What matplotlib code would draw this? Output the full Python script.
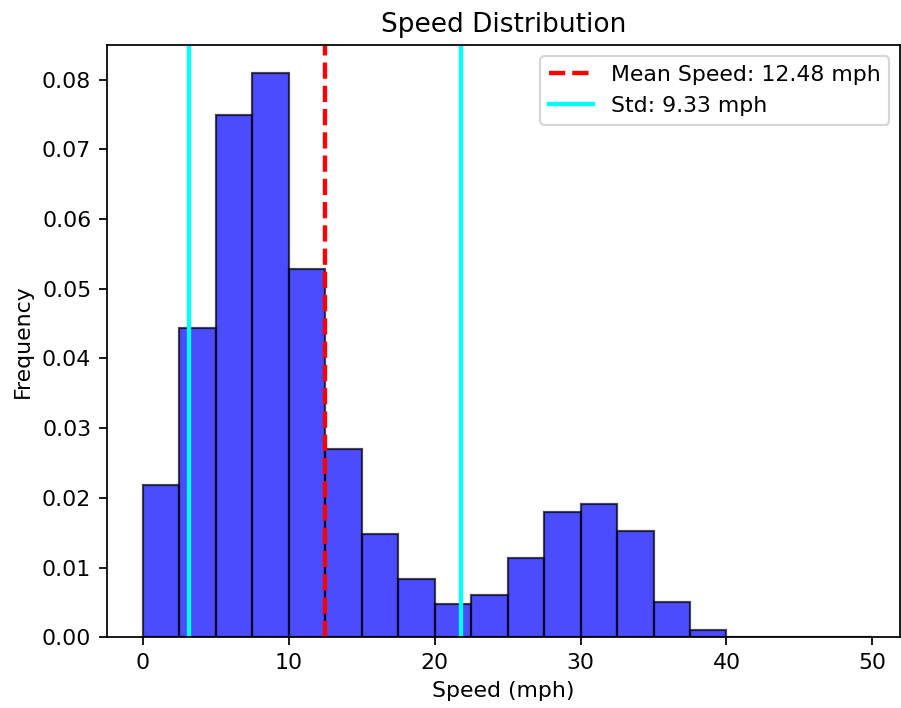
import numpy as np
import matplotlib.pyplot as plt

# Bin edges (mph) and bar heights
bin_edges = np.arange(0, 52.5, 2.5)
frequency = [0.0219, 0.0444, 0.0749, 0.0809, 0.0529, 0.0270, 0.0148, 0.0083,
             0.0047, 0.0060, 0.0113, 0.0179, 0.0191, 0.0153, 0.0051, 0.0010,
             0.0, 0.0, 0.0, 0.0001]
mean_speed = 12.48
std_speed = 9.33

DPI = 158
fig = plt.figure(figsize=(901 / DPI, 708 / DPI), dpi=DPI)
ax = fig.add_axes([106.5 / 901, 0.100, 1 - 106.5 / 901 - 0.001, 0.836])

ax.hist(bin_edges[:-1], bins=bin_edges, weights=frequency,
        color='blue', alpha=0.7, edgecolor='black')

ax.axvline(mean_speed, color='red', linestyle='--', linewidth=2,
           label=f'Mean Speed: {mean_speed:.2f} mph')
ax.axvline(mean_speed - std_speed, color='cyan', linestyle='-', linewidth=2,
           label=f'Std: {std_speed:.2f} mph')
ax.axvline(mean_speed + std_speed, color='cyan', linestyle='-', linewidth=2)

ax.set_xlim(-2.5, 51.9)
ax.set_title('Speed Distribution')
ax.set_xlabel('Speed (mph)')
ax.set_ylabel('Frequency')
ax.legend(loc='upper right')

plt.savefig('out.png', dpi=DPI)
